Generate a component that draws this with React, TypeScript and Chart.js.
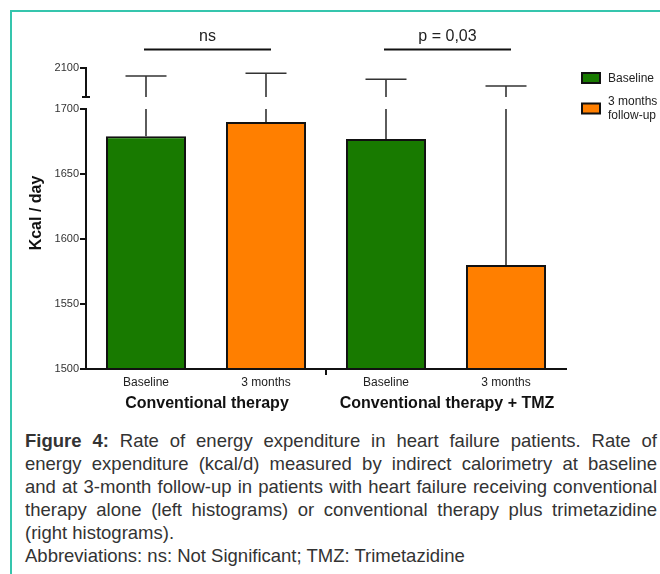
import { useEffect, useRef } from 'react';
import { Chart, registerables } from 'chart.js';

Chart.register(...registerables);

// ---------- data ----------
const categories = ['Baseline', '3 months', 'Baseline', '3 months'];
const groupLabels = ['Conventional therapy', 'Conventional therapy + TMZ'];
const seriesNames = ['Baseline', '3 months follow-up'];
const baselineMeans = [1679, 1677]; // conventional, + TMZ
const followUpMeans = [1690, 1580];
const baselineErrTop = [1990, 1944]; // mean + SD
const followUpErrTop = [2027, 1852];
const lowerTicks = [1500, 1550, 1600, 1650, 1700];
const upperTicks = [2100];
const significance = ['ns', 'p = 0,03'];

const GREEN = '#187a00';
const ORANGE = '#ff7f00';
const FONT = "'Liberation Sans', Arial, sans-serif";

// ---------- broken axis mapping ----------
const LOWER_MAX = 1700;
const UPPER_MIN = 1700;
const UPPER_MAX = 2100;
const GAP = 9.23;
const UPPER_SPAN = 22.31;
const toPlot = (v: number) =>
  v <= LOWER_MAX ? v : LOWER_MAX + GAP + ((v - UPPER_MIN) / (UPPER_MAX - UPPER_MIN)) * UPPER_SPAN;
const Y_MIN = 1500;
const Y_MAX = toPlot(UPPER_MAX);
const allTicks = [...lowerTicks, ...upperTicks];

const means = [baselineMeans[0], followUpMeans[0], baselineMeans[1], followUpMeans[1]];
const errTops = [baselineErrTop[0], followUpErrTop[0], baselineErrTop[1], followUpErrTop[1]];

const customPlugin = {
  id: 'custom',
  afterDatasetsDraw(chart: any) {
    const { ctx, scales } = chart;
    const x = scales.x;
    const y = scales.y;
    const ax = x.left;
    const line = (x1: number, y1: number, x2: number, y2: number) => {
      ctx.beginPath();
      ctx.moveTo(x1, y1);
      ctx.lineTo(x2, y2);
      ctx.stroke();
    };
    ctx.save();
    ctx.strokeStyle = '#111';
    ctx.lineWidth = 2;
    const yBottom = y.getPixelForValue(Y_MIN);
    const yLowTop = y.getPixelForValue(LOWER_MAX);
    const yUpBot = y.getPixelForValue(LOWER_MAX + GAP);
    const yUpTop = y.getPixelForValue(toPlot(UPPER_MAX));
    // y axis segments
    line(ax, yBottom + 1, ax, yLowTop - 1);
    line(ax, yUpBot, ax, yUpTop - 1);
    line(ax - 4, yUpBot, ax + 4, yUpBot);
    // x axis
    line(ax - 1, yBottom, x.right + 1, yBottom);
    // middle separator tick
    const mid = (x.getPixelForValue(1) + x.getPixelForValue(2)) / 2;
    line(mid, yBottom, mid, yBottom + 6);

    // error bars
    ctx.strokeStyle = '#333';
    ctx.lineWidth = 1.6;
    for (let i = 0; i < categories.length; i++) {
      const cx = x.getPixelForValue(i);
      const ym = y.getPixelForValue(means[i]);
      const yc = y.getPixelForValue(toPlot(errTops[i]));
      line(cx, ym, cx, yLowTop);
      line(cx, yUpBot, cx, yc);
      line(cx - 20.5, yc, cx + 20.5, yc);
    }

    // significance annotations
    ctx.strokeStyle = '#111';
    ctx.lineWidth = 2;
    ctx.fillStyle = '#222';
    ctx.font = `16px ${FONT}`;
    ctx.textAlign = 'center';
    ctx.textBaseline = 'middle';
    for (let g = 0; g < 2; g++) {
      const a = x.getPixelForValue(g * 2) - 2;
      const b = x.getPixelForValue(g * 2 + 1) + 5;
      line(a, 49.5, b, 49.5);
      ctx.fillText(significance[g], (a + b) / 2, 37);
    }

    // group labels
    ctx.font = `bold 16px ${FONT}`;
    ctx.fillStyle = '#111';
    for (let g = 0; g < 2; g++) {
      const c = (x.getPixelForValue(g * 2) + x.getPixelForValue(g * 2 + 1)) / 2;
      ctx.fillText(groupLabels[g], c + 1, 404);
    }

    // y title
    ctx.save();
    ctx.translate(37, 213);
    ctx.rotate(-Math.PI / 2);
    ctx.fillText('Kcal / day', 0, 0);
    ctx.restore();

    // legend
    const colors = [GREEN, ORANGE];
    const boxY = [72, 102.5];
    ctx.font = `12px ${FONT}`;
    ctx.textAlign = 'left';
    for (let s = 0; s < 2; s++) {
      ctx.fillStyle = colors[s];
      ctx.fillRect(582, boxY[s] + 1, 18, 10);
      ctx.strokeStyle = '#111';
      ctx.lineWidth = 2;
      ctx.strokeRect(582, boxY[s] + 1, 18, 10);
    }
    ctx.fillStyle = '#222';
    ctx.fillText(seriesNames[0], 608, 78.5);
    const words = seriesNames[1].split(' ');
    ctx.fillText(words.slice(0, 2).join(' '), 608, 102);
    ctx.fillText(words.slice(2).join(' '), 608, 115.5);
    ctx.restore();
  },
};

export default function App() {
  const ref = useRef<HTMLCanvasElement>(null);
  useEffect(() => {
    if (!ref.current) return;
    const chart = new Chart(ref.current, {
      type: 'bar',
      data: {
        labels: categories,
        datasets: [
          {
            label: seriesNames[0],
            data: [baselineMeans[0], null, baselineMeans[1], null],
            backgroundColor: GREEN,
            borderColor: '#111',
            borderWidth: 2,
          },
          {
            label: seriesNames[1],
            data: [null, followUpMeans[0], null, followUpMeans[1]],
            backgroundColor: ORANGE,
            borderColor: '#111',
            borderWidth: 2,
          },
        ],
      },
      options: {
        animation: false,
        responsive: false,
        devicePixelRatio: window.devicePixelRatio || 1,
        layout: { padding: { left: 0, right: 94, top: 68, bottom: 0 } },
        datasets: { bar: { grouped: false, barPercentage: 0.667, categoryPercentage: 1 } } as any,
        plugins: { legend: { display: false }, tooltip: { enabled: false } },
        scales: {
          x: {
            grid: { display: false, drawTicks: false },
            border: { display: false },
            ticks: { font: { family: FONT, size: 12 }, color: '#222', padding: 6 },
            afterFit: (s: any) => {
              s.height = 51;
            },
          },
          y: {
            min: Y_MIN,
            max: Y_MAX,
            afterBuildTicks: (s: any) => {
              s.ticks = allTicks.map((v) => ({ value: toPlot(v) }));
            },
            afterFit: (s: any) => {
              s.width = 86;
            },
            grid: { drawOnChartArea: false, drawTicks: true, tickLength: 6, color: '#111', lineWidth: 2 },
            border: { display: false },
            ticks: {
              font: { family: FONT, size: 11 },
              color: '#333',
              padding: 1,
              autoSkip: false,
              callback: (_v: any, i: number) => String(allTicks[i]),
            },
          },
        },
      },
      plugins: [customPlugin],
    });
    return () => chart.destroy();
  }, []);

  const lineStyle = (justify: boolean) => ({
    whiteSpace: 'nowrap' as const,
    textAlign: (justify ? 'justify' : 'left') as any,
    textAlignLast: (justify ? 'justify' : 'left') as any,
  });

  return (
    <div
      style={{
        position: 'absolute',
        left: 0,
        top: 0,
        width: 660,
        height: 574,
        overflow: 'hidden',
        background: '#fff',
      }}
    >
      <div
        style={{
          position: 'absolute',
          left: 10,
          top: 10,
          width: 700,
          height: 700,
          borderTop: '2px solid #35c5ad',
          borderLeft: '2px solid #35c5ad',
        }}
      />
      <canvas ref={ref} width={660} height={420} style={{ position: 'absolute', left: 0, top: 0, width: 660, height: 420 }} />
      <div
        style={{
          position: 'absolute',
          left: 25,
          top: 429,
          width: 632,
          fontFamily: FONT,
          fontSize: 18.5,
          lineHeight: '23px',
          color: '#333',
        }}
      >
        <div style={lineStyle(true)}>
          <b>Figure 4:</b> Rate of energy expenditure in heart failure patients. Rate of
        </div>
        <div style={lineStyle(true)}>energy expenditure (kcal/d) measured by indirect calorimetry at baseline</div>
        <div style={lineStyle(true)}>and at 3-month follow-up in patients with heart failure receiving conventional</div>
        <div style={lineStyle(true)}>therapy alone (left histograms) or conventional therapy plus trimetazidine</div>
        <div style={lineStyle(false)}>(right histograms).</div>
        <div style={lineStyle(false)}>Abbreviations: ns: Not Significant; TMZ: Trimetazidine</div>
      </div>
    </div>
  );
}
